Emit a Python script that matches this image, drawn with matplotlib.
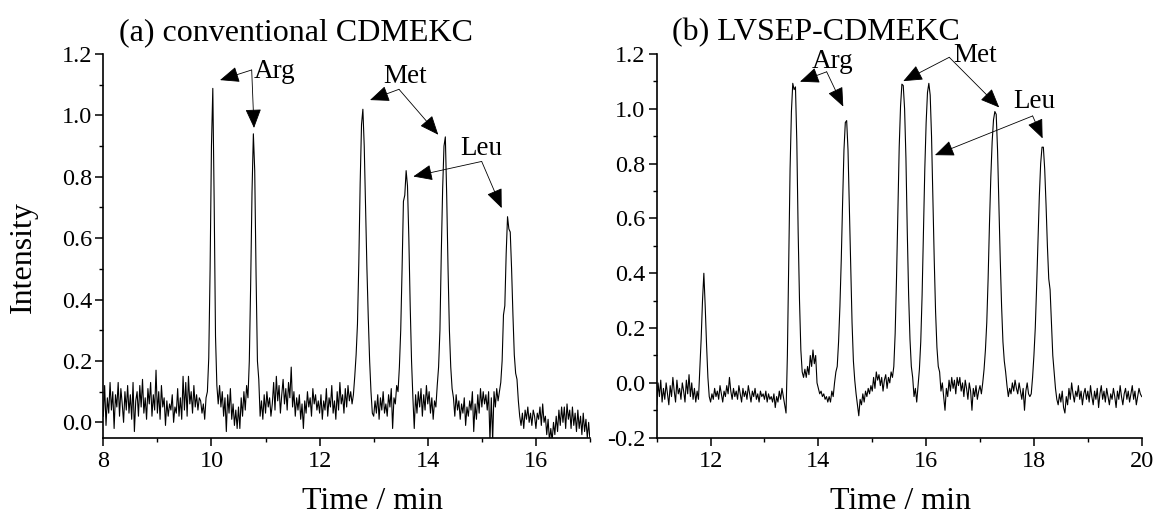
import numpy as np
import matplotlib
matplotlib.use("Agg")
import matplotlib.pyplot as plt
from matplotlib.ticker import MultipleLocator, FormatStrFormatter

plt.rcParams['font.family'] = ['Liberation Serif', 'DejaVu Serif']
plt.rcParams['mathtext.fontset'] = 'stix'

# ---------------- data (0.025 min sampling) ----------------
panel_titles = ["(a) conventional CDMEKC", "(b) LVSEP-CDMEKC"]
time_range_a = (8.0, 17.0)
time_range_b = (11.0, 20.0)

intensity_a = [
    0.02, 0.12, -0.01, 0.08, 0.03, 0.13, 0.04, 0.10, -0.02, 0.09, 0.05, 0.13, 0.02, 0.11, 0.06, 0.00, 0.10, 0.04, 0.12, 0.03,
    0.09, 0.01, 0.13, -0.03, 0.07, 0.10, 0.02, 0.12, 0.05, 0.14, 0.03, 0.08, 0.01, 0.11, 0.06, 0.13, 0.02, 0.09, 0.04, 0.17,
    0.03, 0.10, 0.01, 0.12, 0.05, 0.08, -0.01, 0.07, 0.02, 0.06, 0.04, 0.09, 0.00, 0.05, 0.03, 0.11, 0.02, 0.08, 0.01, 0.15,
    0.04, 0.13, 0.02, 0.15, 0.06, 0.10, 0.03, 0.12, 0.05, 0.09, 0.04, 0.08, 0.07, 0.03, 0.06, 0.01, 0.08, 0.10, 0.21, 0.50,
    0.90, 1.088, 0.72, 0.28, 0.12, 0.06, 0.12, 0.05, 0.10, 0.02, 0.08, -0.03, 0.09, 0.03, 0.11, 0.01, 0.06, -0.01, 0.04, -0.02,
    0.05, -0.02, 0.08, 0.02, 0.10, 0.04, 0.12, 0.08, 0.20, 0.45, 0.75, 0.94, 0.82, 0.48, 0.20, 0.14, 0.02, 0.07, 0.01, 0.09,
    0.03, 0.10, 0.05, 0.08, 0.02, 0.06, 0.13, 0.04, 0.15, 0.07, 0.12, 0.03, 0.09, 0.14, 0.06, 0.11, 0.04, 0.13, 0.08, 0.18,
    0.05, 0.10, 0.02, 0.08, 0.04, 0.09, 0.01, 0.06, -0.02, 0.07, 0.03, 0.10, 0.05, 0.08, 0.02, 0.11, 0.06, 0.09, 0.04, 0.07,
    0.03, 0.09, 0.01, 0.07, 0.04, 0.11, 0.02, 0.08, 0.05, 0.12, 0.03, 0.07, 0.01, 0.10, 0.04, 0.13, 0.06, 0.09, 0.03, 0.11,
    0.05, 0.12, 0.07, 0.10, 0.06, 0.09, 0.15, 0.22, 0.32, 0.52, 0.78, 0.97, 1.02, 0.90, 0.70, 0.50, 0.34, 0.20, 0.10, 0.03,
    0.02, 0.07, 0.03, 0.09, 0.01, 0.08, 0.04, 0.10, 0.03, 0.06, 0.02, 0.09, 0.05, 0.11, -0.02, 0.08, 0.06, 0.12, 0.10, 0.18,
    0.30, 0.50, 0.72, 0.74, 0.82, 0.77, 0.60, 0.38, 0.20, 0.08, -0.02, 0.09, 0.03, 0.10, 0.05, 0.11, 0.02, 0.09, 0.04, 0.12,
    0.06, 0.10, 0.03, 0.08, 0.01, 0.07, 0.05, 0.12, 0.18, 0.30, 0.55, 0.76, 0.90, 0.93, 0.74, 0.50, 0.30, 0.18, 0.11, 0.08,
    0.02, 0.09, 0.04, 0.07, 0.01, 0.06, 0.03, 0.08, -0.01, 0.05, 0.02, 0.07, 0.04, 0.10, -0.03, 0.06, 0.01, 0.09, 0.03, 0.11,
    0.05, 0.10, 0.06, 0.09, 0.04, 0.10, -0.06, 0.08, -0.06, 0.10, 0.05, 0.11, 0.07, 0.10, 0.13, 0.20, 0.35, 0.38, 0.55, 0.67,
    0.63, 0.62, 0.50, 0.35, 0.22, 0.16, 0.14, 0.07, 0.02, -0.01, 0.03, -0.02, 0.04, 0.01, 0.05, 0.00, 0.03, -0.01, 0.04, 0.02,
    -0.02, 0.03, 0.01, 0.05, -0.01, 0.06, 0.00, 0.02, -0.04, 0.01, -0.06, -0.02, -0.06, 0.00, -0.04, 0.02, -0.03, 0.04, -0.01, 0.05,
    0.00, 0.05, -0.02, 0.06, 0.01, 0.04, -0.02, 0.05, -0.01, 0.03, -0.03, 0.04, -0.02, 0.02, -0.04, 0.03, -0.03, 0.01, -0.05, 0.00,
    -0.06,
]

intensity_b = [
    -0.08, 0.00, -0.05, 0.01, -0.07, -0.02, -0.06, 0.00, -0.04, -0.08, -0.01, -0.05, 0.02, -0.03, -0.07, 0.01, -0.04, -0.02, -0.06, 0.00,
    -0.03, -0.07, 0.01, -0.04, 0.03, -0.05, 0.00, -0.06, -0.02, -0.07, -0.03, -0.06, 0.05, 0.16, 0.30, 0.40, 0.28, 0.14, 0.02, -0.05,
    -0.07, -0.04, -0.06, -0.02, -0.05, -0.03, -0.06, -0.01, -0.04, -0.07, -0.03, -0.05, -0.01, -0.04, 0.02, -0.03, -0.06, -0.02, -0.05, -0.03,
    -0.06, -0.01, -0.04, -0.07, -0.02, -0.05, -0.03, -0.06, -0.01, -0.04, -0.07, -0.03, -0.05, -0.02, -0.06, -0.04, -0.07, -0.03, -0.05, -0.04,
    -0.06, -0.03, -0.07, -0.04, -0.06, -0.05, -0.07, -0.04, -0.09, -0.05, -0.07, -0.03, -0.06, -0.02, -0.05, -0.08, -0.11, 0.10, 0.45, 0.78,
    0.99, 1.093, 1.07, 1.08, 0.88, 0.55, 0.30, 0.12, 0.04, 0.02, 0.05, 0.02, 0.06, 0.03, 0.10, 0.06, 0.12, 0.07, 0.10, 0.00,
    -0.02, -0.04, -0.03, -0.05, -0.04, -0.06, -0.05, -0.07, -0.05, -0.07, -0.03, -0.05, 0.00, 0.04, 0.06, 0.15, 0.28, 0.45, 0.66, 0.85,
    0.95, 0.957, 0.85, 0.64, 0.42, 0.22, 0.08, 0.01, -0.04, -0.08, -0.12, -0.06, -0.08, -0.04, -0.07, -0.03, -0.05, -0.02, -0.04, -0.01,
    -0.03, 0.02, -0.02, 0.04, 0.01, 0.03, -0.01, 0.02, -0.03, 0.01, 0.03, -0.02, 0.02, 0.00, 0.04, 0.02, 0.06, 0.18, 0.38, 0.63,
    0.86, 1.01, 1.09, 1.085, 1.00, 0.82, 0.55, 0.32, 0.16, 0.06, 0.02, -0.05, -0.02, -0.07, -0.01, 0.05, 0.15, 0.32, 0.55, 0.78,
    0.95, 1.06, 1.093, 1.05, 0.90, 0.68, 0.45, 0.26, 0.13, 0.06, 0.04, -0.03, 0.00, -0.05, -0.10, -0.02, -0.05, 0.01, -0.03, 0.02,
    -0.02, 0.01, -0.04, 0.02, -0.01, 0.02, -0.03, 0.00, -0.05, 0.01, -0.02, -0.06, 0.00, -0.03, -0.10, -0.02, -0.05, -0.01, -0.06, -0.03,
    -0.01, -0.04, 0.00, 0.05, 0.12, 0.22, 0.38, 0.58, 0.75, 0.88, 0.96, 0.99, 0.98, 0.85, 0.65, 0.45, 0.28, 0.15, 0.08, 0.04,
    -0.01, -0.05, -0.02, -0.04, 0.00, -0.03, 0.01, -0.02, -0.04, 0.00, -0.03, -0.06, -0.02, -0.10, -0.03, 0.00, -0.04, -0.05, -0.04, 0.02,
    0.10, 0.20, 0.35, 0.52, 0.68, 0.80, 0.86, 0.86, 0.78, 0.65, 0.50, 0.38, 0.34, 0.22, 0.10, 0.04, -0.02, -0.06, -0.08, -0.04,
    -0.07, -0.03, -0.09, -0.11, -0.05, -0.08, -0.02, -0.06, 0.00, -0.04, -0.07, -0.03, -0.05, -0.01, -0.06, -0.03, -0.08, -0.04, -0.02, -0.06,
    -0.03, -0.07, -0.01, -0.05, -0.08, -0.03, -0.06, -0.02, -0.09, -0.04, -0.01, -0.06, -0.03, -0.07, -0.02, -0.05, -0.08, -0.04, -0.06, -0.02,
    -0.05, -0.09, -0.03, -0.06, -0.01, -0.05, -0.08, -0.04, -0.02, -0.06, -0.03, -0.07, -0.04, -0.01, -0.06, -0.03, -0.08, -0.05, -0.02, -0.04,
    -0.05,
]

# peak labels: (label, text pos, junction, [arrow tips])  in data coordinates
labels_a = [
    ("Arg", (10.787, 1.122), (10.744, 1.148), [(10.158, 1.115), (10.787, 0.959)]),
    ("Met", (13.172, 1.106), (13.468, 1.085), [(12.932, 1.050), (14.194, 0.937)]),
    ("Leu", (14.596, 0.8715), (14.997, 0.850), [(13.732, 0.801), (15.367, 0.698)]),
]
labels_b = [
    ("Arg", (13.876, 1.149), (14.154, 1.135), [(13.659, 1.099), (14.462, 1.008)]),
    ("Met", (16.497, 1.172), (16.429, 1.188), [(15.575, 1.101), (17.356, 1.005)]),
    ("Leu", (17.610, 1.003), (17.976, 0.974), [(16.163, 0.831), (18.161, 0.892)]),
]

time_a = np.linspace(time_range_a[0], time_range_a[1], len(intensity_a))
time_b = np.linspace(time_range_b[0], time_range_b[1], len(intensity_b))

# ---------------- figure ----------------
W, H = 1154, 520
fig = plt.figure(figsize=(W / 100, H / 100), dpi=100)

def px_axes(left, top, right, bottom):
    return fig.add_axes([left / W, 1 - bottom / H, (right - left) / W, (bottom - top) / H])

ax_a = px_axes(103.3, 54, 590, 437.7)
ax_b = px_axes(656.7, 54, 1141.7, 437.7)

def style(ax, xlim, ylim):
    ax.set_xlim(*xlim)
    ax.set_ylim(*ylim)
    for s in ("top", "right"):
        ax.spines[s].set_visible(False)
    for s in ("left", "bottom"):
        ax.spines[s].set_linewidth(1.2)
    ax.xaxis.set_major_locator(MultipleLocator(2))
    ax.xaxis.set_minor_locator(MultipleLocator(1))
    ax.yaxis.set_major_locator(MultipleLocator(0.2))
    ax.yaxis.set_minor_locator(MultipleLocator(0.1))
    ax.yaxis.set_major_formatter(FormatStrFormatter('%.1f'))
    ax.tick_params(which='major', direction='out', length=5.5, width=1.1, labelsize=17.5, pad=2.5)
    ax.tick_params(which='minor', direction='out', length=3, width=1.0)
    ax.tick_params(axis='x', which='major', pad=4)

style(ax_a, time_range_a, (-0.05, 1.2))
style(ax_b, time_range_b, (-0.2, 1.2))

ax_a.plot(time_a, intensity_a, color='black', lw=0.8)
ax_b.plot(time_b, intensity_b, color='black', lw=0.8)

def annotate(ax, items):
    for name, tpos, junction, tips in items:
        ax.text(tpos[0], tpos[1], name, fontsize=19.5, ha='left', va='baseline')
        for tip in tips:
            ax.annotate('', xy=tip, xytext=junction,
                        arrowprops=dict(arrowstyle='-|>,head_length=1.2,head_width=0.5',
                                        mutation_scale=10, lw=0.6, color='black',
                                        shrinkA=0, shrinkB=0))

annotate(ax_a, labels_a)
annotate(ax_b, labels_b)

# titles
fig.text(119 / W, 1 - 40 / H, panel_titles[0], fontsize=23, ha='left', va='baseline')
fig.text(672 / W, 1 - 40 / H, panel_titles[1], fontsize=23, ha='left', va='baseline')

# axis labels
fig.text(23 / W, 1 - 257 / H, "Intensity", fontsize=23, rotation=90, ha='center', va='center')
fig.text(372 / W, 1 - 509 / H, "Time / min", fontsize=23, ha='center', va='baseline')
fig.text(900 / W, 1 - 509 / H, "Time / min", fontsize=23, ha='center', va='baseline')

fig.savefig("out.png", dpi=100)
